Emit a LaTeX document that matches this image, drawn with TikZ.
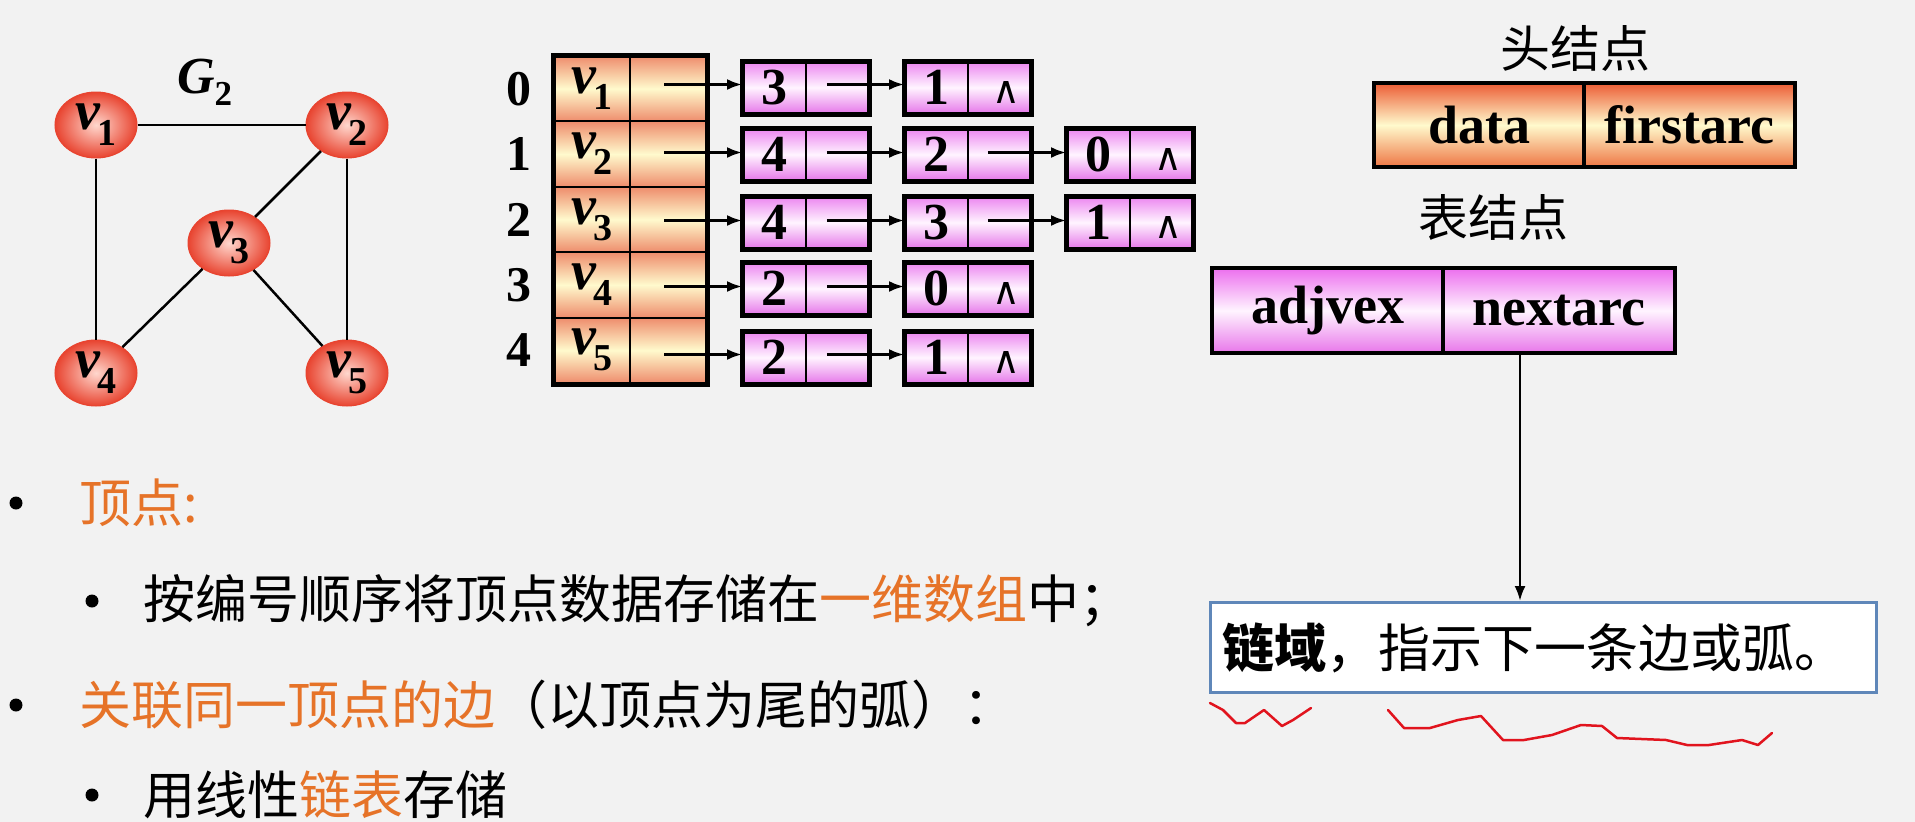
\documentclass[tikz,border=0pt]{standalone}
\usepackage{fontspec}
\setmainfont{Liberation Serif}
\newfontfamily\cjk{Noto Sans CJK SC}
\newfontfamily\dvs{DejaVu Sans}
\usetikzlibrary{shapes.geometric,arrows.meta,calc}
\definecolor{bg}{RGB}{242,242,242}
\definecolor{orangetxt}{RGB}{230,115,40}
\definecolor{vred}{RGB}{232,68,48}
\definecolor{vlight}{RGB}{255,215,205}
\definecolor{hTop}{RGB}{238,140,108}
\definecolor{hMid}{RGB}{255,250,205}
\definecolor{hdTop}{RGB}{236,92,52}
\definecolor{hdBot}{RGB}{238,118,68}
\definecolor{pTop}{RGB}{236,135,240}
\definecolor{pMid}{RGB}{255,244,255}
\definecolor{pBot}{RGB}{230,122,234}
\definecolor{tTop}{RGB}{236,110,238}
\definecolor{tBot}{RGB}{232,118,234}
\definecolor{noteblue}{RGB}{95,135,185}
\definecolor{scrib}{RGB}{225,20,30}
\newcommand{\vlab}[1]{{\fontsize{56}{56}\selectfont\bfseries\itshape v}\kern-2pt\raisebox{-16pt}{\fontsize{38}{38}\selectfont\bfseries #1}}
\newcommand{\cjksize}{\fontsize{52}{52}\selectfont}
\tikzset{
  vert/.style={ellipse, draw=vred, line width=1pt, minimum width=82pt, minimum height=66pt, inner sep=0pt, inner color=vlight, outer color=vred},
  gedge/.style={line width=2.5pt},
  hcell/.style={draw, line width=2pt, minimum width=76pt, minimum height=65.4pt, inner sep=0pt, top color=hTop, bottom color=hTop, middle color=hMid},
  lcell/.style={draw, line width=2pt, minimum width=62.5pt, minimum height=51pt, inner sep=0pt, top color=pTop, bottom color=pBot, middle color=pMid, font=\fontsize{52}{52}\selectfont\bfseries},
  thickbox/.style={line width=5pt},
  arr/.style={line width=2.5pt, -{Latex[length=15pt,width=11pt]}},
  idx/.style={font=\fontsize{50}{50}\selectfont\bfseries, inner sep=0pt},
  nullmk/.style={font=\dvs\fontsize{38}{38}\selectfont, inner sep=0pt},
  headcell/.style={draw, line width=4.5pt, minimum height=84pt, inner sep=0pt, top color=hdTop, bottom color=hdBot, middle color=hMid, font=\fontsize{54}{54}\selectfont\bfseries},
  tabcell/.style={draw, line width=4.5pt, minimum height=85pt, inner sep=0pt, top color=tTop, bottom color=tBot, middle color=pMid, font=\fontsize{54}{54}\selectfont\bfseries},
  cjklabel/.style={font=\cjk\fontsize{50}{50}\selectfont, inner sep=0pt},
  bullettext/.style={font=\cjk\cjksize, inner sep=0pt, anchor=west},
  scribble/.style={draw=scrib, line width=2.5pt, line join=round, line cap=round},
}
\begin{document}
\begin{tikzpicture}[x=1pt,y=-1pt]
\fill[bg] (0,0) rectangle (1915,822);
\useasboundingbox (0,0) rectangle (1915,822);

% ---------- graph G2 ----------
\node[inner sep=0pt] (g2) at (205,82) {{\fontsize{52}{52}\selectfont\bfseries\itshape G}\kern-1pt\raisebox{-12pt}{\fontsize{35}{35}\selectfont\bfseries 2}};
\node[vert] (v1) at (96,125) {\vlab{1}};
\node[vert] (v2) at (347,125) {\vlab{2}};
\node[vert] (v3) at (229,243) {\vlab{3}};
\node[vert] (v4) at (96,373) {\vlab{4}};
\node[vert] (v5) at (347,373) {\vlab{5}};
\draw[gedge] (v1) -- (v2);
\draw[gedge] (v1) -- (v4);
\draw[gedge] (v2) -- (v5);
\draw[gedge] (v2) -- (v3);
\draw[gedge] (v3) -- (v4);
\draw[gedge] (v3) -- (v5);

% ---------- head array ----------
\node[idx] (i0) at (519,88.7) {0};
\node[idx] (i1) at (519,154.1) {1};
\node[idx] (i2) at (519,219.5) {2};
\node[idx] (i3) at (519,284.9) {3};
\node[idx] (i4) at (519,350.3) {4};
\node[hcell] (h0L) at (592,88.7) {\vlab{1}};
\node[hcell] (h0R) at (668,88.7) {};
\node[hcell] (h1L) at (592,154.1) {\vlab{2}};
\node[hcell] (h1R) at (668,154.1) {};
\node[hcell] (h2L) at (592,219.5) {\vlab{3}};
\node[hcell] (h2R) at (668,219.5) {};
\node[hcell] (h3L) at (592,284.9) {\vlab{4}};
\node[hcell] (h3R) at (668,284.9) {};
\node[hcell] (h4L) at (592,350.3) {\vlab{5}};
\node[hcell] (h4R) at (668,350.3) {};
\draw[thickbox] (h0L.north west) rectangle (h4R.south east);

% ---------- list nodes ----------
% row 0
\node[lcell] (n01L) at (774.25,87.5) {3};
\node[lcell] (n01R) at (836.75,87.5) {};
\node[lcell] (n02L) at (936.25,87.5) {1};
\node[lcell] (n02R) at (998.75,87.5) {};
% row 1
\node[lcell] (n11L) at (774.25,154.5) {4};
\node[lcell] (n11R) at (836.75,154.5) {};
\node[lcell] (n12L) at (936.25,154.5) {2};
\node[lcell] (n12R) at (998.75,154.5) {};
\node[lcell] (n13L) at (1098.25,154.5) {0};
\node[lcell] (n13R) at (1160.75,154.5) {};
% row 2
\node[lcell] (n21L) at (774.25,222.5) {4};
\node[lcell] (n21R) at (836.75,222.5) {};
\node[lcell] (n22L) at (936.25,222.5) {3};
\node[lcell] (n22R) at (998.75,222.5) {};
\node[lcell] (n23L) at (1098.25,222.5) {1};
\node[lcell] (n23R) at (1160.75,222.5) {};
% row 3
\node[lcell] (n31L) at (774.25,288.5) {2};
\node[lcell] (n31R) at (836.75,288.5) {};
\node[lcell] (n32L) at (936.25,288.5) {0};
\node[lcell] (n32R) at (998.75,288.5) {};
% row 4
\node[lcell] (n41L) at (774.25,357.5) {2};
\node[lcell] (n41R) at (836.75,357.5) {};
\node[lcell] (n42L) at (936.25,357.5) {1};
\node[lcell] (n42R) at (998.75,357.5) {};

\draw[thickbox] (n01L.north west) rectangle (n01R.south east);
\draw[thickbox] (n02L.north west) rectangle (n02R.south east);
\draw[thickbox] (n11L.north west) rectangle (n11R.south east);
\draw[thickbox] (n12L.north west) rectangle (n12R.south east);
\draw[thickbox] (n13L.north west) rectangle (n13R.south east);
\draw[thickbox] (n21L.north west) rectangle (n21R.south east);
\draw[thickbox] (n22L.north west) rectangle (n22R.south east);
\draw[thickbox] (n23L.north west) rectangle (n23R.south east);
\draw[thickbox] (n31L.north west) rectangle (n31R.south east);
\draw[thickbox] (n32L.north west) rectangle (n32R.south east);
\draw[thickbox] (n41L.north west) rectangle (n41R.south east);
\draw[thickbox] (n42L.north west) rectangle (n42R.south east);

% null marks
\node[nullmk] (z02) at ($(n02R.center)+(8,5)$) {∧};
\node[nullmk] (z13) at ($(n13R.center)+(8,5)$) {∧};
\node[nullmk] (z23) at ($(n23R.center)+(8,5)$) {∧};
\node[nullmk] (z32) at ($(n32R.center)+(8,5)$) {∧};
\node[nullmk] (z42) at ($(n42R.center)+(8,5)$) {∧};

% arrows from head array
\draw[arr] ($(h0R.center |- n01L.west)+(-4,-3)$) -- ($(n01L.west)+(0,-3)$);
\draw[arr] ($(h1R.center |- n11L.west)+(-4,-2)$) -- ($(n11L.west)+(0,-2)$);
\draw[arr] ($(h2R.center |- n21L.west)+(-4,-2)$) -- ($(n21L.west)+(0,-2)$);
\draw[arr] ($(h3R.center |- n31L.west)+(-4,-2)$) -- ($(n31L.west)+(0,-2)$);
\draw[arr] ($(h4R.center |- n41L.west)+(-4,-3)$) -- ($(n41L.west)+(0,-3)$);
% arrows between list nodes
\draw[arr] ($(n01R.center)+(-10,-3)$) -- ($(n02L.west)+(0,-3)$);
\draw[arr] ($(n11R.center)+(-10,-2)$) -- ($(n12L.west)+(0,-2)$);
\draw[arr] ($(n12R.center)+(-11,-2)$) -- ($(n13L.west)+(0,-2)$);
\draw[arr] ($(n21R.center)+(-10,-2)$) -- ($(n22L.west)+(0,-2)$);
\draw[arr] ($(n22R.center)+(-11,-2)$) -- ($(n23L.west)+(0,-2)$);
\draw[arr] ($(n31R.center)+(-10,-2)$) -- ($(n32L.west)+(0,-2)$);
\draw[arr] ($(n41R.center)+(-10,-3)$) -- ($(n42L.west)+(0,-3)$);

% ---------- head node structure ----------
\node[cjklabel] (hdlab) at (1575,48) {头结点};
\node[headcell, minimum width=210pt] (hdL) at (1479,125) {data};
\node[headcell, minimum width=211pt] (hdR) at (1689.5,125) {firstarc};

% ---------- table node structure ----------
\node[cjklabel] (tblab) at (1493,217) {表结点};
\node[tabcell, minimum width=231pt] (tbL) at (1327.5,310.5) {adjvex};
\node[tabcell, minimum width=232pt] (tbR) at (1559,310.5) {nextarc};

% ---------- note box ----------
\node[draw=noteblue, fill=white, line width=3pt, anchor=north west, minimum height=90pt,
      text width=642pt, inner xsep=12pt, inner ysep=0pt, align=left, font=\cjk\cjksize] (note) at (1209,601)
  {{\bfseries 链域}，指示下一条边或弧。};
\coordinate (tail) at ($(tbR.south)+(-39,0)$);
\draw[arr] (tail) -- (tail |- note.north);

% red scribbles
\draw[scribble] (1210,703) -- (1223,710) -- (1236,723) -- (1245,723) -- (1264,710) -- (1282,726) -- (1293,720) -- (1311,708);
\draw[scribble] (1388,710) -- (1404,728) -- (1430,728) -- (1458,720) -- (1481,716) -- (1503,740) -- (1524,740) -- (1552,735) -- (1581,725) -- (1602,726) -- (1617,738) -- (1666,740) -- (1687,745) -- (1709,745) -- (1742,740) -- (1758,745) -- (1772,733);

% ---------- bullet text ----------
\fill (16,503) circle (6.5);
\node[bullettext] (t1) at (79,503) {{\color{orangetxt}顶点:}};
\fill (92,601) circle (6.5);
\node[bullettext] (t2) at (143,601) {按编号顺序将顶点数据存储在{\color{orangetxt}一维数组}中；};
\fill (16,705) circle (6.5);
\node[bullettext] (t3) at (79,705) {{\color{orangetxt}关联同一顶点的边}（以顶点为尾的弧）：};
\fill (92,795) circle (6.5);
\node[bullettext] (t4) at (143,795) {用线性{\color{orangetxt}链表}存储};
\end{tikzpicture}
\end{document}
